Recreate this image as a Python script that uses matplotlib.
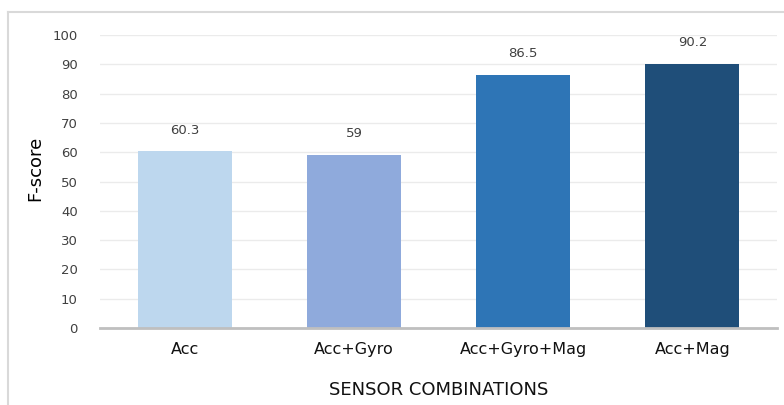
import matplotlib
matplotlib.use('Agg')
import matplotlib.pyplot as plt
from matplotlib.lines import Line2D

categories = ['Acc', 'Acc+Gyro', 'Acc+Gyro+Mag', 'Acc+Mag']
fscore = [60.3, 59, 86.5, 90.2]
value_labels = ['60.3', '59', '86.5', '90.2']
colors = ['#bdd7ee', '#8faadc', '#2e75b6', '#1f4e79']
yticks = list(range(0, 101, 10))

fig = plt.figure(figsize=(7.84, 4.05), dpi=100)
ax = fig.add_axes([0.1276, 0.19, 0.8635, 0.7236])

x = range(len(categories))
bars = ax.bar(x, fscore, width=0.556, color=colors, zorder=2)
for b, lab in zip(bars, value_labels):
    ax.text(b.get_x() + b.get_width() / 2, b.get_height() + 5, lab,
            ha='center', va='bottom', fontsize=9.5, color='#404040')

ax.set_xlim(-0.5, 3.5)
ax.set_ylim(0, 100)
ax.set_yticks(yticks)
ax.yaxis.grid(True, color='#ebebeb', linewidth=1, zorder=0)
ax.set_xticks(list(x))
ax.set_xticklabels(categories, fontsize=11.5, color='#111111')
ax.tick_params(axis='x', length=0, pad=10)
ax.tick_params(axis='y', length=0, pad=16, labelsize=9.5, labelcolor='#404040')
for s in ['top', 'right', 'left']:
    ax.spines[s].set_visible(False)
ax.spines['bottom'].set_color('#bfbfbf')
ax.spines['bottom'].set_linewidth(2)

ax.set_ylabel('F-score', fontsize=13)
ax.yaxis.set_label_coords(-0.082, 0.546)
ax.set_xlabel('SENSOR COMBINATIONS', fontsize=13, labelpad=17, color='#111111')

# chart frame lines (top and left)
fig.add_artist(Line2D([8 / 784, 1], [1 - 12 / 405, 1 - 12 / 405], color='#d9d9d9', lw=1.5))
fig.add_artist(Line2D([8 / 784, 8 / 784], [0, 1 - 12 / 405], color='#d9d9d9', lw=1.5))

fig.savefig('out.png', dpi=100)
